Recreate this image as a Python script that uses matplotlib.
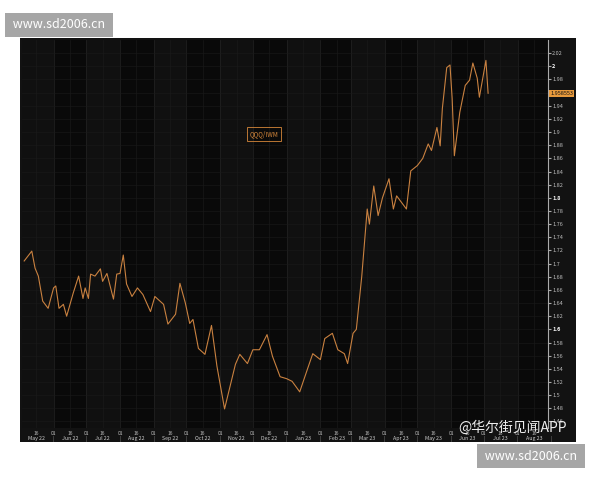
import numpy as np
import pandas as pd
import matplotlib.pyplot as plt

plt.rcParams['font.family'] = ['Noto Sans CJK SC', 'DejaVu Sans']

# QQQ/IWM ratio (days counted from 2022-05-01)
days = [4, 11, 14, 17, 21, 26, 31, 33, 36, 40, 43, 49, 54, 58, 60, 63, 65, 69, 74, 76,
        80, 86, 89, 92, 95, 98, 103, 108, 113, 120, 124, 132, 136, 143, 147, 152, 156, 159,
        164, 170, 176, 181, 188, 193, 198, 202, 209, 214, 220, 227, 232, 239, 245, 250, 257,
        264, 269, 276, 280, 287, 292, 298,
        301, 306, 309, 314, 319, 321, 325, 329, 333, 339, 343, 346, 355, 359, 365, 370, 375,
        378, 383, 386, 388, 392, 395, 397, 399, 404, 409, 413, 416, 420, 422, 428, 430]
ratio = [1.704, 1.719, 1.693, 1.681, 1.643, 1.632, 1.663, 1.666, 1.632, 1.638, 1.620, 1.655,
         1.681, 1.647, 1.663, 1.647, 1.684, 1.681, 1.692, 1.673, 1.685, 1.646, 1.684, 1.685,
         1.713, 1.669, 1.650, 1.663, 1.653, 1.627, 1.650, 1.638, 1.608, 1.623, 1.670, 1.640,
         1.609, 1.615, 1.571, 1.562, 1.606, 1.544, 1.479, 1.513, 1.547, 1.562, 1.548, 1.569,
         1.569, 1.592, 1.559, 1.528, 1.525, 1.521, 1.505, 1.539, 1.563, 1.554, 1.586, 1.594,
         1.569, 1.563,
         1.548, 1.594, 1.600, 1.681, 1.783, 1.760, 1.818, 1.773, 1.800, 1.829, 1.783, 1.803,
         1.783, 1.841, 1.849, 1.860, 1.882, 1.872, 1.907, 1.879, 1.936, 1.998, 2.002, 1.951,
         1.864, 1.930, 1.971, 1.979, 2.005, 1.982, 1.953, 2.009, 1.959]
last_value = 1.958553
series_name = 'QQQ/IWM'
month_labels = ['May 22', 'Jun 22', 'Jul 22', 'Aug 22', 'Sep 22', 'Oct 22', 'Nov 22', 'Dec 22',
                'Jan 23', 'Feb 23', 'Mar 23', 'Apr 23', 'May 23', 'Jun 23', 'Jul 23', 'Aug 23']

start = pd.Timestamp('2022-05-01')
dates = start + pd.to_timedelta(days, unit='D')

fig = plt.figure(figsize=(6, 4.8), dpi=100, facecolor='white')
# dark terminal panel behind axes and labels
bg = fig.add_axes([20 / 600, 1 - 442 / 480, 556 / 600, 404 / 480])
bg.set_facecolor('#121212')
bg.set_xticks([])
bg.set_yticks([])
for s in bg.spines.values():
    s.set_visible(False)

ax = fig.add_axes([22 / 600, 1 - 428 / 480, 526 / 600, 388 / 480])
ax.set_facecolor('#090909')

# month bands and grid
month_starts = pd.date_range('2022-05-01', '2023-09-01', freq='MS')
for i in range(len(month_starts) - 1):
    if i % 2 == 0:
        ax.axvspan(month_starts[i], month_starts[i + 1], color='#101010', lw=0, zorder=0)
for m in month_starts:
    ax.axvline(m, color='#242424', lw=0.5, zorder=1)
    ax.axvline(m + pd.Timedelta(days=15), color='#1c1c1c', lw=0.4, zorder=1)
for y in np.arange(1.46, 2.03, 0.02):
    ax.axhline(y, color='#1a1a1a', lw=0.4, zorder=1)

ax.plot(dates, ratio, color='#c98140', lw=0.8, zorder=3)

ax.set_xlim(start + pd.Timedelta(days=2), start + pd.Timedelta(days=485))
ax.set_ylim(1.45, 2.04)
ax.yaxis.tick_right()
ticks = np.round(np.arange(1.46, 2.03, 0.02), 2)
ax.set_yticks(ticks)
# the last-value tag sits where the 1.96 label would be
ax.set_yticklabels(['' if t == 1.96 else f'{t:g}' for t in ticks], fontsize=4, color='#bbbbbb')
for lab, t in zip(ax.get_yticklabels(), ticks):
    if t in (1.6, 1.8, 2.0):
        lab.set_fontweight('bold')
        lab.set_color('white')
ax.tick_params(axis='y', length=2, color='#aaaaaa', pad=1)
ax.spines['right'].set_color('#aaaaaa')
for s in ('top', 'left', 'bottom'):
    ax.spines[s].set_visible(False)

# x ticks: 1st and 16th of each month, month names below
xt = []
for m in month_starts[:-1]:
    if m != month_starts[0]:
        xt.append(m)
    xt.append(m + pd.Timedelta(days=15))
ax.set_xticks(xt)
ax.set_xticklabels([d.strftime('%d') for d in xt], fontsize=3.5, color='#bbbbbb')
ax.tick_params(axis='x', length=0, pad=2)
for i, lab in enumerate(month_labels):
    mid = month_starts[i] + pd.Timedelta(days=15)
    ax.text(mid, -0.028, lab, transform=ax.get_xaxis_transform(), ha='center', va='center',
            fontsize=3.8, color='#cccccc')
    ax.text(month_starts[i + 1], -0.028, '|', transform=ax.get_xaxis_transform(),
            ha='center', va='center', fontsize=3.5, color='#888888')

# legend box and last-value tag
ax.text(0.46, 0.758, series_name, transform=ax.transAxes, fontsize=4.5, color='#d6873a',
        ha='center', va='center',
        bbox=dict(facecolor='none', edgecolor='#d6873a', lw=0.6, pad=2))
ax.text(1.004, last_value, f'{last_value:.6f}', transform=ax.get_yaxis_transform(),
        fontsize=4, color='#111111', ha='left', va='center', zorder=5,
        bbox=dict(facecolor='#e89a3c', edgecolor='none', pad=0.8))

# watermarks
fig.text(10 / 600, 1 - 25 / 480, ' www.sd2006.cn ', fontsize=9, color='white', va='center',
         bbox=dict(facecolor='#a6a6a6', edgecolor='none', pad=4))
fig.text(482 / 600, 1 - 456 / 480, ' www.sd2006.cn ', fontsize=9, color='white', va='center',
         bbox=dict(facecolor='#a6a6a6', edgecolor='none', pad=4))
fig.text(458 / 600, 1 - 428 / 480, '@华尔街见闻APP', fontsize=10, color='#eeeeee', va='center')

fig.savefig('out.png', dpi=100, facecolor='white')
